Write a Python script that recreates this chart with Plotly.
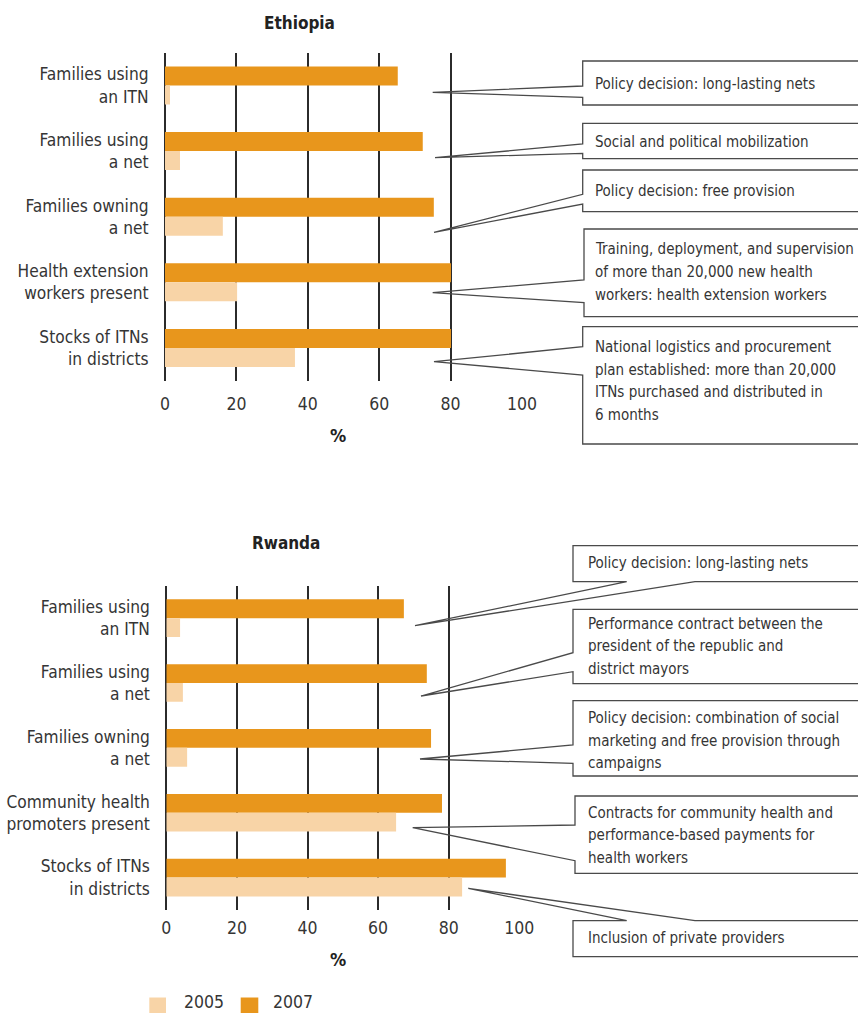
import plotly.graph_objects as go

# ---- data -------------------------------------------------------------
eth_categories = [
    "Families using<br>an ITN",
    "Families using<br>a net",
    "Families owning<br>a net",
    "Health extension<br>workers present",
    "Stocks of ITNs<br>in districts",
]
eth_2005 = [1.4, 4.2, 16.2, 20.2, 36.4]
eth_2007 = [65.2, 72.2, 75.3, 80.1, 80.1]

rwa_categories = [
    "Families using<br>an ITN",
    "Families using<br>a net",
    "Families owning<br>a net",
    "Community health<br>promoters present",
    "Stocks of ITNs<br>in districts",
]
rwa_2005 = [3.9, 4.7, 5.9, 65.1, 83.8]
rwa_2007 = [67.3, 73.8, 75.0, 78.1, 96.2]

x_ticks = [0, 20, 40, 60, 80, 100]
years = ["2005", "2007"]

eth_notes = [
    "Policy decision: long-lasting nets",
    "Social and political mobilization",
    "Policy decision: free provision",
    "Training, deployment, and supervision<br>of more than 20,000 new health<br>workers: health extension workers",
    "National logistics and procurement<br>plan established: more than 20,000<br>ITNs purchased and distributed in<br>6 months",
]
rwa_notes = [
    "Policy decision: long-lasting nets",
    "Performance contract between the<br>president of the republic and<br>district mayors",
    "Policy decision: combination of social<br>marketing and free provision through<br>campaigns",
    "Contracts for community health and<br>performance-based payments for<br>health workers",
    "Inclusion of private providers",
]

# ---- styling ----------------------------------------------------------
W, H = 858, 1013
FONT = "DejaVu Sans Condensed, Liberation Sans Narrow, Arial Narrow, sans-serif"
C_2005 = "#F8D4A7"
C_2007 = "#E8961C"
TXT = "#353535"
GRID = "#2b2b2b"
BOX = "#4a4a4a"
NOTE_SIZE = 15
NOTE_LINE = 22.5


def px(x, y):
    """Pixel position -> paper coordinates (margins are zero)."""
    return x / W, 1 - y / H


fig = go.Figure()

panels = [
    ("x", "y", eth_categories, eth_2005, eth_2007),
    ("x2", "y2", rwa_categories, rwa_2005, rwa_2007),
]
for xa, ya, cats, v05, v07 in panels:
    fig.add_trace(go.Bar(y=cats, x=v07, orientation="h", name=years[1],
                         marker=dict(color=C_2007, line_width=0),
                         xaxis=xa, yaxis=ya, showlegend=False))
    fig.add_trace(go.Bar(y=cats, x=v05, orientation="h", name=years[0],
                         marker=dict(color=C_2005, line_width=0),
                         xaxis=xa, yaxis=ya, showlegend=False))

xaxis_common = dict(
    range=[0, 100], tickvals=x_ticks, showgrid=True, gridcolor=GRID,
    gridwidth=1.5, zeroline=True, zerolinecolor=GRID, zerolinewidth=1.5,
    showline=False, ticks="outside", tickcolor="rgba(0,0,0,0)",
    tickfont=dict(family=FONT, size=17.5, color=TXT), fixedrange=True,
    automargin=False,
)
yaxis_common = dict(
    type="category", range=[4.5, -0.5], showgrid=False, zeroline=False,
    showline=False, ticks="outside", tickcolor="rgba(0,0,0,0)", ticklen=12,
    tickfont=dict(family=FONT, size=17.2, color=TXT), fixedrange=True,
    automargin=False,
)

d_ex = px(165, 0)[0], px(522, 0)[0]
d_ey = px(0, 380.7)[1], px(0, 52.7)[1]
d_rx = px(166.3, 0)[0], px(519.3, 0)[0]
d_ry = px(0, 910)[1], px(0, 585.7)[1]

fig.update_layout(
    width=W, height=H,
    margin=dict(l=0, r=0, t=0, b=0),
    paper_bgcolor="white", plot_bgcolor="white",
    barmode="group", bargap=0.42, bargroupgap=0,
    font=dict(family=FONT, color=TXT),
    xaxis=dict(domain=list(d_ex), anchor="y", ticklen=7, **xaxis_common),
    yaxis=dict(domain=list(d_ey), anchor="x", **yaxis_common),
    xaxis2=dict(domain=list(d_rx), anchor="y2", ticklen=2, **xaxis_common),
    yaxis2=dict(domain=list(d_ry), anchor="x2", **yaxis_common),
)

annotations = []


def text_at(x, y, text, size, bold=False, xanchor="center"):
    ax, ay = px(x, y)
    annotations.append(dict(
        x=ax, y=ay, xref="paper", yref="paper",
        text=f"<b>{text}</b>" if bold else text,
        showarrow=False, xanchor=xanchor, yanchor="middle", align="left",
        font=dict(family=FONT, size=size, color="#222" if bold else TXT),
    ))


def note_block(x, y_center, note):
    lines = note.split("<br>")
    n = len(lines)
    for i, line in enumerate(lines):
        text_at(x, y_center + (i - (n - 1) / 2) * NOTE_LINE, line, NOTE_SIZE,
                xanchor="left")


# panel titles and axis unit labels
text_at(299, 23, "Ethiopia", 17, bold=True)
text_at(286, 543, "Rwanda", 17, bold=True)
text_at(338, 435, "%", 18, bold=True)
text_at(338, 959, "%", 18, bold=True)

shapes = []


def path(points):
    p = []
    for i, (x, y) in enumerate(points):
        X, Y = px(x, y)
        p.append(("M" if i == 0 else "L") + f"{X:.5f},{Y:.5f}")
    return " ".join(p)


def side_box(left, top, bottom, n_top, n_bot, tip, right=870):
    """Callout box whose pointer leaves from its left edge."""
    pts = [(right, top), (left, top), (left, n_top), tip, (left, n_bot),
           (left, bottom), (right, bottom)]
    shapes.append(dict(type="path", xref="paper", yref="paper", path=path(pts),
                       line=dict(color=BOX, width=1.3)))


def edge_box(left, top, bottom, n_l, n_r, tip, edge, right=870):
    """Callout box whose pointer leaves from its top or bottom edge."""
    if edge == "bottom":
        pts = [(right, top), (left, top), (left, bottom), (n_l, bottom), tip,
               (n_r, bottom), (right, bottom)]
    else:
        pts = [(right, bottom), (left, bottom), (left, top), (n_l, top), tip,
               (n_r, top), (right, top)]
    shapes.append(dict(type="path", xref="paper", yref="paper", path=path(pts),
                       line=dict(color=BOX, width=1.3)))


# Ethiopia callouts
side_box(582.7, 61, 105, 86, 97.3, (432.7, 92.3))
side_box(582.7, 123.3, 158.7, 144, 153.3, (435, 157.7))
side_box(582.7, 170, 211.7, 194.3, 204, (434, 232.3))
side_box(584, 229, 316.7, 280, 302.7, (432.7, 292.7))
side_box(582.7, 326.7, 444, 346.7, 375, (434, 361.7))
for note, yc in zip(eth_notes, [84, 141.7, 191, 272, 381]):
    note_block(592.5, yc, note)

# Rwanda callouts
edge_box(573, 545.7, 581.7, 626.7, 695, (415, 625.7), "bottom")
side_box(573, 609.3, 683.7, 652.7, 671.7, (421, 696))
side_box(573, 700.7, 776, 745, 763.3, (420, 759))
side_box(575, 796, 873.3, 825, 860.7, (412.7, 827.7))
edge_box(573, 920.7, 956.7, 626.7, 695, (468.3, 888.3), "top")
for note, yc in zip(rwa_notes, [563.3, 646.3, 740.5, 835, 938.3]):
    note_block(586, yc, note)

# legend swatches
for (x0, x1), col, label, tx in [((149.3, 166), C_2005, years[0], 181.5),
                                 ((240.7, 258.3), C_2007, years[1], 271)]:
    X0, Y0 = px(x0, 997.5)
    X1, Y1 = px(x1, 1014)
    shapes.append(dict(type="rect", xref="paper", yref="paper", x0=X0, x1=X1,
                       y0=Y1, y1=Y0, fillcolor=col, line_width=0))
    text_at(tx, 1001.5, label, 17.5, xanchor="left")

fig.update_layout(annotations=annotations, shapes=shapes)
fig.write_html("out.html")
